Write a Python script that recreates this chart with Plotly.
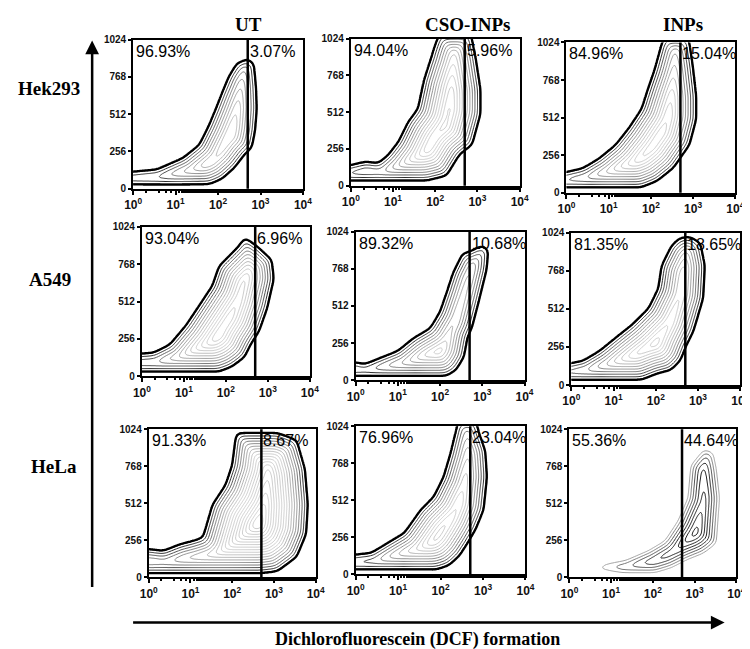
import numpy as np
import plotly.graph_objects as go

FIG_W, FIG_H = 750, 649

# ---------------- data ----------------
row_names = ["Hek293", "A549", "HeLa"]
col_names = ["UT", "CSO-INPs", "INPs"]

left_pct = [[96.93, 94.04, 84.96],
            [93.04, 89.32, 81.35],
            [91.33, 76.96, 55.36]]
right_pct = [[3.07, 5.96, 15.04],
             [6.96, 10.68, 18.65],
             [8.67, 23.04, 44.64]]

gate_dcf = 500  # DCF gate separating the two regions

x_tickvals = [1, 10, 100, 1000, 10000]
x_ticktext = ["<b>10<sup>0</sup></b>", "<b>10<sup>1</sup></b>", "<b>10<sup>2</sup></b>",
              "<b>10<sup>3</sup></b>", "<b>10<sup>4</sup></b>"]
y_tickvals = [0, 256, 512, 768, 1024]
y_ticktext = ["<b>0</b>", "<b>256</b>", "<b>512</b>", "<b>768</b>", "<b>1024</b>"]

# population outlines (log10 DCF, side-scatter)
hek_ut_lx = [-0.3, 1.0, 1.8, 2.1, 2.4, 2.63, 2.8, 2.88, 2.92, 2.9, 2.85, 2.7, 2.44, 2.25, 2.09, 1.94, 1.78, 1.55, 1.17, 0.55, -0.3]
hek_ut_y = [28, 26, 29, 67, 146, 235, 280, 400, 550, 700, 860, 895, 863, 773, 661, 549, 437, 302, 213, 134, 112]

hek_cso_lx = [-0.3, 1.8, 2.27, 2.58, 2.77, 2.88, 3.08, 3.08, 2.96, 2.85, 2.1, 2.0, 1.88, 1.73, 1.58, 1.35, 1.12, 0.88, 0.65, 0.35, -0.3]
hek_cso_y = [34, 34, 68, 216, 260, 284, 500, 671, 899, 1060, 1060, 990, 876, 740, 535, 444, 307, 216, 159, 171, 125]

hek_inp_lx = [-0.3, 1.77, 2.15, 2.54, 2.7, 2.92, 3.08, 3.08, 3.0, 2.92, 2.9, 2.3, 2.23, 2.08, 1.92, 1.77, 1.46, 1.15, 0.77, 0.38, -0.3]
hek_inp_y = [34, 34, 78, 168, 235, 325, 500, 661, 863, 1019, 1060, 1060, 997, 840, 706, 571, 437, 325, 235, 168, 123]

a549_ut_lx = [-0.3, 1.83, 2.14, 2.45, 2.6, 2.8, 2.99, 3.15, 3.1, 2.76, 2.45, 2.29, 1.83, 1.67, 1.36, 1.05, 0.66, 0.27, -0.3]
a549_ut_y = [29, 29, 63, 130, 219, 309, 465, 666, 800, 890, 957, 890, 756, 622, 487, 353, 219, 163, 152]

a549_cso_lx = [-0.3, 2.15, 2.38, 2.57, 2.66, 2.76, 2.92, 3.11, 3.15, 3.0, 2.69, 2.53, 2.3, 2.15, 1.99, 1.76, 1.37, 0.99, 0.6, 0.22, -0.3]
a549_cso_y = [27, 27, 68, 158, 300, 360, 540, 765, 900, 934, 889, 878, 743, 608, 473, 360, 293, 203, 158, 113, 140]

a549_inp_lx = [-0.3, 1.66, 2.05, 2.36, 2.59, 2.71, 2.9, 3.13, 3.17, 3.06, 2.8, 2.55, 2.36, 2.13, 2.05, 1.82, 1.43, 1.04, 0.66, 0.27, -0.3]
a549_inp_y = [33, 33, 77, 99, 165, 253, 363, 584, 804, 958, 1002, 990, 936, 804, 650, 517, 407, 319, 231, 165, 132]

hela_ut_lx = [-0.3, 2.7, 3.08, 3.55, 3.78, 3.82, 3.75, 3.55, 3.1, 2.7, 2.1, 2.07, 1.99, 1.83, 1.52, 1.29, 1.05, 0.74, 0.35, -0.3]
hela_ut_y = [27, 27, 40, 140, 300, 503, 750, 950, 1000, 1000, 1000, 956, 775, 639, 503, 276, 254, 231, 186, 208]

hela_cso_lx = [-0.3, 1.9, 2.2, 2.45, 2.65, 2.83, 3.02, 3.1, 3.06, 2.9, 2.85, 2.4, 2.37, 2.22, 2.06, 1.83, 1.52, 1.14, 0.75, 0.37, -0.3]
hela_cso_y = [32, 32, 61, 129, 220, 310, 446, 673, 854, 990, 1060, 1060, 1012, 831, 673, 537, 446, 288, 220, 152, 129]

hela_inp_lx = [0.64, 0.72, 1.27, 2.05, 2.44, 2.83, 3.22, 3.53, 3.61, 3.53, 3.45, 3.22, 2.9, 2.83, 2.59, 2.28, 1.89, 1.34, 0.88]
hela_inp_y = [75, 52, 29, 29, 63, 120, 165, 233, 549, 753, 866, 888, 775, 549, 391, 255, 188, 120, 97]

outlines = [[(hek_ut_lx, hek_ut_y), (hek_cso_lx, hek_cso_y), (hek_inp_lx, hek_inp_y)],
            [(a549_ut_lx, a549_ut_y), (a549_cso_lx, a549_cso_y), (a549_inp_lx, a549_inp_y)],
            [(hela_ut_lx, hela_ut_y), (hela_cso_lx, hela_cso_y), (hela_inp_lx, hela_inp_y)]]

# ---------------- layout (pixel boxes of each panel) ----------------
boxes = [[(119, 293, 26, 178), (342, 515, 25, 175), (563, 736, 29, 182)],
         [(128, 300, 217, 369), (347, 520, 222, 373), (568, 741, 223, 378)],
         [(135, 306, 423, 574), (347, 521, 420, 571), (566, 737, 423, 574)]]

SANS = "Liberation Sans, Arial, sans-serif"
SERIF = "Liberation Serif, Times New Roman, serif"


def signed_distance(plx, py, glx, gy, wpx, hpx):
    ax = np.asarray(plx, float) / 4.0 * wpx
    ay = np.asarray(py, float) / 1024.0 * hpx
    bx, by = np.roll(ax, -1), np.roll(ay, -1)
    GX, GY = np.meshgrid(glx / 4.0 * wpx, gy / 1024.0 * hpx)
    px = GX.ravel()[:, None]
    pyy = GY.ravel()[:, None]
    dx, dy = bx - ax, by - ay
    t = ((px - ax) * dx + (pyy - ay) * dy) / (dx * dx + dy * dy)
    t = np.clip(t, 0, 1)
    d = np.sqrt((px - (ax + t * dx)) ** 2 + (pyy - (ay + t * dy)) ** 2).min(axis=1)
    with np.errstate(divide="ignore", invalid="ignore"):
        xint = (bx - ax) * (pyy - ay) / (by - ay) + ax
        cross = ((ay > pyy) != (by > pyy)) & (px < xint)
    inside = (cross.sum(axis=1) % 2) == 1
    sd = np.where(inside, d, -d)
    return sd.reshape(GX.shape)


def blur(a, s):
    n = int(3 * s)
    kern = np.exp(-0.5 * (np.arange(-n, n + 1) / s) ** 2)
    kern /= kern.sum()
    p = np.pad(a, n, mode="edge")
    p = np.apply_along_axis(lambda v: np.convolve(v, kern, mode="valid"), 0, p)
    p = np.apply_along_axis(lambda v: np.convolve(v, kern, mode="valid"), 1, p)
    return p


grid_lx = np.linspace(-0.05, 4.05, 170)
grid_y = np.linspace(-20, 1060, 160)

fig = go.Figure()
layout_axes = {}
annotations = []
shapes = []

grey_scale = [[0, "#000000"], [0.15, "#333333"], [0.4, "#808080"], [0.7, "#aaaaaa"], [1, "#cccccc"]]
inv_scale = [[0, "#a0a0a0"], [0.3, "#707070"], [0.6, "#404040"], [1, "#1a1a1a"]]

k = 0
for r in range(3):
    for c in range(3):
        k += 1
        sfx = "" if k == 1 else str(k)
        x0, x1, y0, y1 = boxes[r][c]
        wpx, hpx = x1 - x0, y1 - y0
        plx, py = outlines[r][c]
        sd = signed_distance(plx, py, grid_lx, grid_y, wpx, hpx)
        sd = np.round(blur(sd, 3.0), 1)
        is_sparse = (r == 2 and c == 2)
        fig.add_trace(go.Contour(
            x=10 ** grid_lx, y=grid_y, z=sd, xaxis="x" + sfx, yaxis="y" + sfx,
            contours=dict(start=0.8 if not is_sparse else 0.5, end=60, size=2.6, coloring="lines"),
            colorscale=inv_scale if is_sparse else grey_scale,
            zmin=0, zmax=12 if is_sparse else 22, zauto=False,
            line=dict(width=1, smoothing=1.0), showscale=False, hoverinfo="skip"))
        if not is_sparse:
            fig.add_trace(go.Contour(
                x=10 ** grid_lx, y=grid_y, z=sd, xaxis="x" + sfx, yaxis="y" + sfx,
                contours=dict(start=0.3, end=0.3, size=1, coloring="none"),
                line=dict(width=2.3, color="black", smoothing=1.0), showscale=False, hoverinfo="skip"))
        dom_x = [x0 / FIG_W, x1 / FIG_W]
        dom_y = [1 - y1 / FIG_H, 1 - y0 / FIG_H]
        layout_axes["xaxis" + sfx] = dict(
            domain=dom_x, anchor="y" + sfx, type="log", range=[0, 4],
            tickmode="array", tickvals=x_tickvals, ticktext=x_ticktext,
            ticks="outside", ticklen=4, tickwidth=1.5, tickcolor="black",
            minor=dict(ticks="outside", ticklen=2, tickcolor="black", showgrid=False),
            showline=True, linecolor="black", linewidth=2, mirror=True,
            showgrid=False, zeroline=False,
            tickfont=dict(family=SANS, size=12, color="#111111"))
        layout_axes["yaxis" + sfx] = dict(
            domain=dom_y, anchor="x" + sfx, range=[0, 1024],
            tickmode="array", tickvals=y_tickvals, ticktext=y_ticktext,
            ticks="outside", ticklen=3, tickwidth=1.5, tickcolor="black",
            showline=True, linecolor="black", linewidth=2, mirror=True,
            showgrid=False, zeroline=False,
            tickfont=dict(family=SANS, size=10, color="#111111"))
        # gate line
        shapes.append(dict(type="line", xref="x" + sfx, yref="y" + sfx + " domain",
                           x0=gate_dcf, x1=gate_dcf, y0=0, y1=1,
                           line=dict(color="black", width=2.5)))
        annotations.append(dict(xref="x" + sfx + " domain", yref="y" + sfx + " domain",
                                x=0.0, y=1.0, xanchor="left", yanchor="top", showarrow=False,
                                text=f"{left_pct[r][c]:.2f}%", xshift=1, yshift=-1,
                                font=dict(family=SANS, size=16, color="black")))
        annotations.append(dict(xref="x" + sfx, yref="y" + sfx + " domain",
                                x=np.log10(gate_dcf), y=1.0, xanchor="left", yanchor="top",
                                showarrow=False, text=f"{right_pct[r][c]:.2f}%", xshift=0, yshift=-1,
                                font=dict(family=SANS, size=16, color="black")))

# column titles
col_centers = [237, 462, 682]
for name, cx in zip(col_names, col_centers):
    annotations.append(dict(xref="paper", yref="paper", x=cx / FIG_W, y=1 - 11 / FIG_H,
                            xanchor="center", yanchor="middle", showarrow=False, text=f"<b>{name}</b>",
                            font=dict(family=SERIF, size=19, color="black")))
# row titles
row_centers = [(33, 76), (34, 271), (38, 461)]
for name, (cx, cy) in zip(row_names, row_centers):
    annotations.append(dict(xref="paper", yref="paper", x=cx / FIG_W, y=1 - cy / FIG_H,
                            xanchor="center", yanchor="middle", showarrow=False, text=f"<b>{name}</b>",
                            font=dict(family=SERIF, size=19, color="black")))
# bottom label
annotations.append(dict(xref="paper", yref="paper", x=410 / FIG_W, y=1 - 637 / FIG_H,
                        xanchor="center", yanchor="middle", showarrow=False,
                        text="<b>Dichlorofluorescein (DCF) formation</b>",
                        font=dict(family=SERIF, size=18, color="black")))
# arrows
annotations.append(dict(xref="paper", yref="paper", x=77 / FIG_W, y=1 - 27 / FIG_H,
                        ax=0, ay=548, showarrow=True, arrowhead=2, arrowsize=1.1,
                        arrowwidth=2.5, arrowcolor="black", text=""))
annotations.append(dict(xref="paper", yref="paper", x=725 / FIG_W, y=1 - 620 / FIG_H,
                        ax=-593, ay=0, showarrow=True, arrowhead=2, arrowsize=1.1,
                        arrowwidth=2.5, arrowcolor="black", text=""))

fig.update_layout(width=FIG_W, height=FIG_H, margin=dict(l=0, r=0, t=0, b=0),
                  plot_bgcolor="white", paper_bgcolor="white", showlegend=False,
                  annotations=annotations, shapes=shapes, **layout_axes)

fig.write_html("out.html")
